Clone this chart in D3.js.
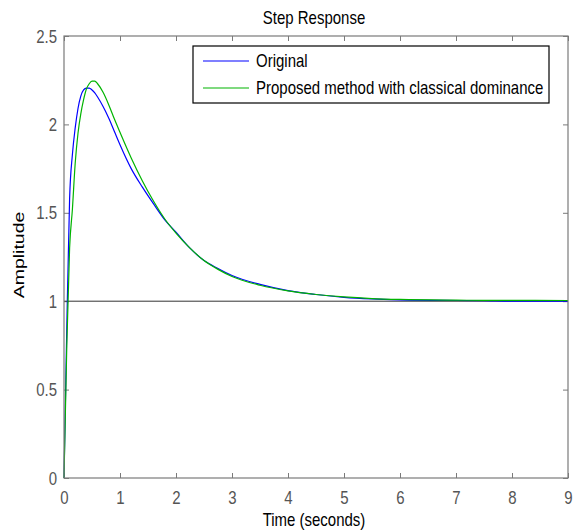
<!DOCTYPE html>
<html>
<head>
<meta charset="utf-8">
<script src="https://cdn.jsdelivr.net/npm/d3@7"></script>
<style>
  body { margin: 0; background: #fff; }
  svg { display: block; font-family: "Liberation Sans", Arial, sans-serif; }
</style>
</head>
<body>
<div id="chart"></div>
<script>
// step response samples
var time = [0, 0.05, 0.1, 0.15, 0.2, 0.25, 0.3, 0.35, 0.4, 0.45, 0.5, 0.55, 0.6, 0.7, 0.8, 0.9, 1.0,
            1.2, 1.4, 1.6, 1.8, 2.0, 2.25, 2.5, 2.75, 3.0, 3.5, 4.0, 4.5, 5.0, 5.5, 6.0, 7.0, 7.5, 8.0, 9.0];
var original = [0, 0.85, 1.58, 1.83, 1.98, 2.09, 2.16, 2.195, 2.205, 2.205, 2.195, 2.178, 2.155, 2.10, 2.035, 1.96, 1.885,
                1.75, 1.645, 1.55, 1.46, 1.39, 1.30, 1.23, 1.185, 1.145, 1.095, 1.06, 1.038, 1.022, 1.013, 1.008, 1.004, 1.003, 1.0, 1.0];
var proposed = [0, 0.75, 1.30, 1.52, 1.78, 1.95, 2.06, 2.14, 2.20, 2.23, 2.245, 2.245, 2.23, 2.18, 2.11, 2.03, 1.955,
                1.81, 1.68, 1.565, 1.465, 1.385, 1.30, 1.23, 1.18, 1.14, 1.09, 1.058, 1.038, 1.024, 1.015, 1.01, 1.006, 1.005, 1.005, 1.004];
var xTicks = [0, 1, 2, 3, 4, 5, 6, 7, 8, 9];
var yTicks = [0, 0.5, 1, 1.5, 2, 2.5];
var seriesNames = ["Original", "Proposed method with classical dominance"];
var seriesColors = ["#0000ff", "#00b400"];

var svg = d3.select("#chart").append("svg").attr("width", 573).attr("height", 530),
    margin = {top: 36, right: 5, bottom: 52, left: 64},
    width = +svg.attr("width") - margin.left - margin.right,
    height = +svg.attr("height") - margin.top - margin.bottom;

var g = svg.append("g").attr("transform", "translate(" + margin.left + "," + margin.top + ")");

var x = d3.scaleLinear().domain([0, 9]).range([0, width]);
var y = d3.scaleLinear().domain([0, 2.5]).range([height, 0]);

var axisColor = "#7a7a7a", labelColor = "#555";
var stretch = 1.2; // the picture's text looks taller than wide

function styleAxis(sel, showText) {
  sel.select(".domain").remove();
  sel.selectAll(".tick line").attr("stroke", axisColor);
  sel.selectAll(".tick text").attr("fill", labelColor).style("font-size", "15px")
    .style("display", showText ? null : "none");
}

// bottom / left with labels, top / right ticks only (inward)
var xAxis = g.append("g").attr("transform", "translate(0," + height + ")")
  .call(d3.axisBottom(x).tickValues(xTicks).tickFormat(d3.format("d")).tickSizeInner(-5).tickPadding(14))
  .call(styleAxis, true);
xAxis.selectAll(".tick text").attr("dy", null).attr("y", 0)
  .attr("transform", "translate(0,26) scale(1," + stretch + ")");

var yAxis = g.append("g")
  .call(d3.axisLeft(y).tickValues(yTicks).tickFormat(function(d) { return d; }).tickSizeInner(-5).tickPadding(9))
  .call(styleAxis, true);
yAxis.selectAll(".tick text").attr("dy", null).attr("x", 0)
  .attr("transform", "translate(-7,6) scale(1," + stretch + ")");

g.append("g")
  .call(d3.axisTop(x).tickValues(xTicks).tickSizeInner(-5))
  .call(styleAxis, false);
g.append("g").attr("transform", "translate(" + width + ",0)")
  .call(d3.axisRight(y).tickValues(yTicks).tickSizeInner(-5))
  .call(styleAxis, false);

// reference line at steady state
g.append("line")
  .attr("x1", 0).attr("x2", width)
  .attr("y1", y(1)).attr("y2", y(1))
  .attr("stroke", "#333").attr("stroke-width", 1);

var line = d3.line()
  .x(function(d) { return x(d.t); })
  .y(function(d) { return y(d.v); })
  .curve(d3.curveMonotoneX);

[original, proposed].forEach(function(vals, i) {
  var pts = time.map(function(t, k) { return {t: t, v: vals[k]}; });
  g.append("path")
    .datum(pts)
    .attr("fill", "none")
    .attr("stroke", seriesColors[i])
    .attr("stroke-width", 1.2)
    .attr("d", line);
});

// plot box
g.append("rect")
  .attr("x", 0).attr("y", 0).attr("width", width).attr("height", height)
  .attr("fill", "none").attr("stroke", axisColor).attr("stroke-width", 1.2);

// legend
var legend = svg.append("g").attr("transform", "translate(193,46)");
legend.append("rect")
  .attr("width", 356).attr("height", 57)
  .attr("fill", "#fff").attr("stroke", "#000").attr("stroke-width", 1.2);
seriesNames.forEach(function(name, i) {
  var row = legend.append("g").attr("transform", "translate(0," + (15 + i * 27) + ")");
  row.append("line").attr("x1", 10).attr("x2", 56)
    .attr("stroke", seriesColors[i]).attr("stroke-width", 1.2);
  row.append("text").attr("transform", "translate(63,6) scale(1," + stretch + ")")
    .style("font-size", "15px").attr("fill", "#000").text(name);
});

// titles
svg.append("text")
  .attr("transform", "translate(" + (margin.left + width / 2 - 2) + ",24) scale(1," + stretch + ")")
  .attr("text-anchor", "middle").style("font-size", "15px").attr("fill", "#000")
  .text("Step Response");
svg.append("text")
  .attr("transform", "translate(" + (margin.left + width / 2 - 2) + ",526) scale(1," + stretch + ")")
  .attr("text-anchor", "middle").style("font-size", "15px").attr("fill", "#000")
  .text("Time (seconds)");
svg.append("text")
  .attr("transform", "translate(24,255) scale(1,1.3) rotate(-90)")
  .attr("text-anchor", "middle").style("font-size", "15px").attr("fill", "#000")
  .text("Amplitude");
</script>
</body>
</html>
